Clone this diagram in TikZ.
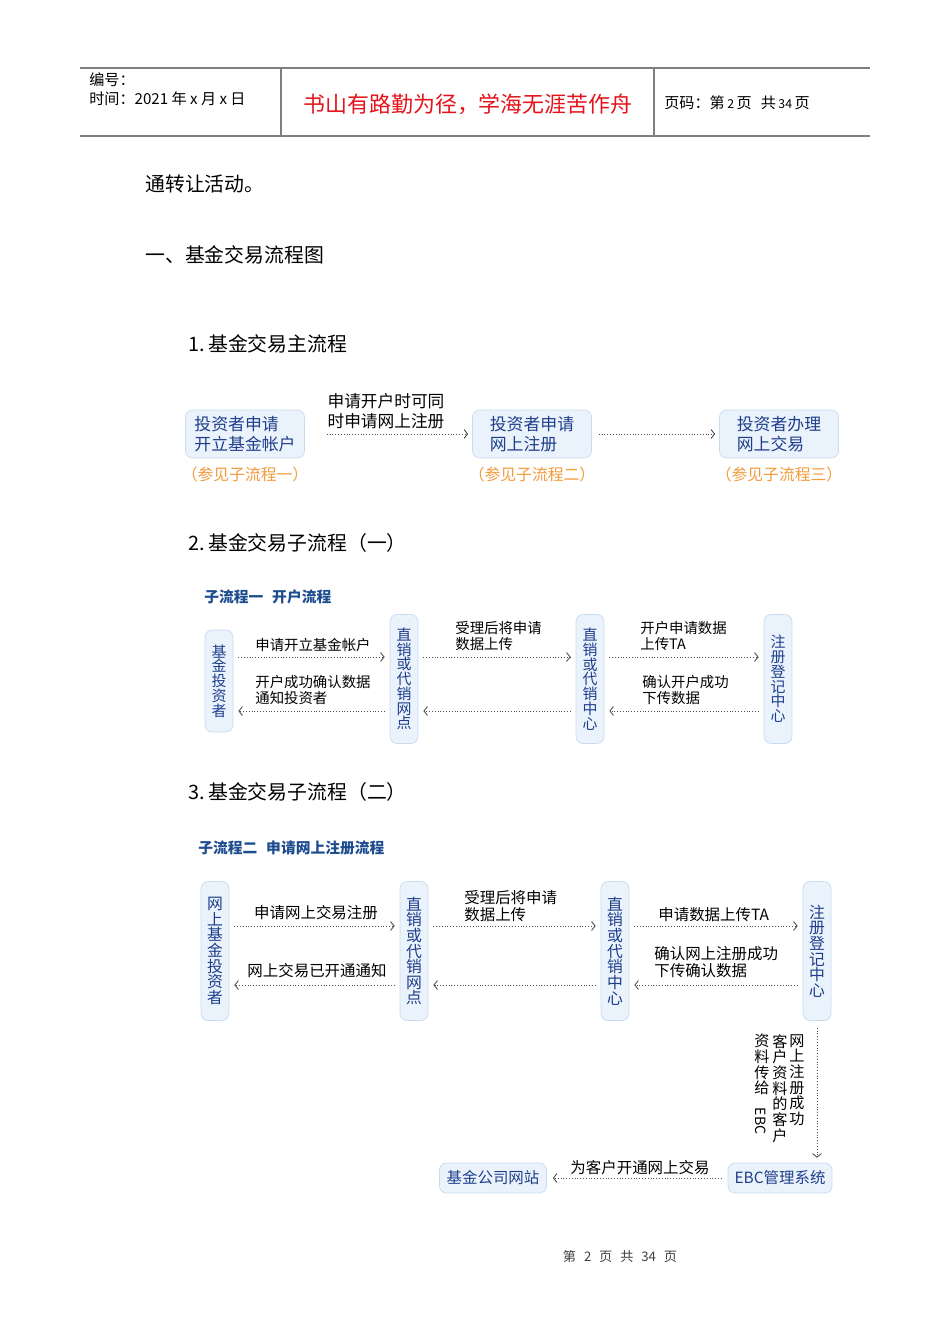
\documentclass[tikz,border=0pt]{standalone}
\usepackage{fontspec}
\usepackage{graphicx}
\setmainfont{Noto Sans CJK SC}
\usetikzlibrary{arrows.meta}
\definecolor{boxfill}{HTML}{EAF2FB}
\definecolor{boxline}{HTML}{C8DCF0}
\definecolor{boxtext}{HTML}{1F3F8C}
\definecolor{refcolor}{HTML}{F39A3A}
\definecolor{mottored}{HTML}{E3141B}
\definecolor{subhead}{HTML}{1E4D8F}
\definecolor{rulegray}{HTML}{7F7F7F}
\newcommand{\fs}[2]{\fontsize{#1}{#2}\selectfont}
\begin{document}
\begin{tikzpicture}[x=0.02cm, y=-0.02cm,
            mainbox/.style={draw=boxline, fill=boxfill, rounded corners=4pt, text=boxtext, align=left, minimum width=2.38cm, minimum height=0.96cm, inner sep=0pt, font=\fs{9.6pt}{11.3pt}},
            vbox/.style={draw=boxline, fill=boxfill, rounded corners=4pt, text=boxtext, align=center, minimum width=0.56cm, inner sep=0pt, font=\fs{8.5pt}{8.4pt}},
            wbox/.style={vbox, minimum height=2.78cm, font=\fs{9pt}{8.9pt}},
            hbox/.style={draw=boxline, fill=boxfill, rounded corners=4pt, text=boxtext, minimum height=0.6cm, inner sep=0pt, font=\fs{8.8pt}{10pt}},
            flow/.style={draw=black!70, line width=0.5pt, dash pattern=on 0.5pt off 1.1pt, -{Straight Barb[length=2pt,width=5pt]}, shorten <=0.1cm, shorten >=0.1cm},
            lbl/.style={font=\fs{8.2pt}{9.6pt}, align=left, inner sep=0pt},
            lblb/.style={font=\fs{8.8pt}{10pt}, align=left, inner sep=0pt},
            vcol/.style={font=\fs{8.6pt}{8.9pt}, align=center, inner sep=0pt, anchor=north},
            seeref/.style={text=refcolor, font=\fs{9pt}{10pt}, inner sep=0pt},
            sechead/.style={anchor=west, inner sep=0pt, font=\fs{11.3pt}{13pt}},
            subtitle/.style={anchor=west, inner sep=0pt, text=subhead, font=\bfseries\fs{8.4pt}{10pt}},
            hdr/.style={anchor=west, inner sep=0pt, font=\fs{8.6pt}{10pt}},
            rule/.style={draw=rulegray, line width=0.6pt}
        ]
        \fill[white] (0,0) rectangle (950,1344);
        \useasboundingbox (0,0) rectangle (950,1344);

        % --- CABECERA ---
        \draw[rule] (80,68) -- (870,68);
        \draw[rule, line width=1.2pt] (80,136) -- (870,136);
        \draw[rule] (281,68) -- (281,136);
        \draw[rule] (654,68) -- (654,136);
        \node[hdr] (num) at (89,80) {编号：};
        \node[hdr] (date) at (89,99) {时间：2021 年 x 月 x 日};
        \node[text=mottored, font=\fs{12.5pt}{14pt}, inner sep=0pt] (motto) at (468,104) {书山有路勤为径，学海无涯苦作舟};
        \node[hdr] (page) at (664,103) {页码：第\,{\fs{7pt}{8pt}2}\,页\hspace{0.6em}共\,{\fs{7pt}{8pt}34}\,页};

        % --- TEXTO ---
        \node[sechead] (t0) at (145,184) {通转让活动。};
        \node[sechead] (t1) at (145,255) {一、基金交易流程图};
        \node[sechead] (s1) at (188,344) {1.\,基金交易主流程};
        \node[sechead] (s2) at (188,543) {2.\,基金交易子流程（一）};
        \node[sechead] (s3) at (188,792) {3.\,基金交易子流程（二）};

        % --- FLUJO PRINCIPAL ---
        \node[mainbox] (apply) at (245,434) {投资者申请\\开立基金帐户};
        \node[mainbox] (reg) at (532,434) {投资者申请\\网上注册};
        \node[mainbox] (trade) at (779,434) {投资者办理\\网上交易};
        \node[seeref] (ref1) at (245,474) {（参见子流程一）};
        \node[seeref] (ref2) at (532,474) {（参见子流程二）};
        \node[seeref] (ref3) at (779,474) {（参见子流程三）};

        \draw[flow, shorten <=0.44cm, shorten >=0.08cm] (apply) -- (reg);
        \draw[flow, shorten <=0.14cm, shorten >=0.08cm] (reg) -- (trade);
        \node[font=\fs{9.5pt}{11.3pt}, align=center, inner sep=0pt] (l0) at (386,411) {申请开户时可同\\时申请网上注册};

        % --- SUBFLUJO UNO ---
        \node[subtitle] (sub1) at (204,597) {子流程一\hspace{0.6em}开户流程};
        \node[vbox, minimum height=2.04cm] (inv) at (219,681) {基\\金\\投\\资\\者};
        \node[vbox, minimum height=2.58cm] (branch) at (404,679) {直\\销\\或\\代\\销\\网\\点};
        \node[vbox, minimum height=2.58cm] (center) at (590,679) {直\\销\\或\\代\\销\\中\\心};
        \node[vbox, minimum height=2.58cm] (ta) at (778,679) {注\\册\\登\\记\\中\\心};
        \coordinate (up1) at (0,657);
        \coordinate (dn1) at (0,711);

        \draw[flow] (inv.east |- up1) -- (branch.west |- up1);
        \draw[flow] (branch.east |- up1) -- (center.west |- up1);
        \draw[flow] (center.east |- up1) -- (ta.west |- up1);
        \draw[flow] (branch.west |- dn1) -- (inv.east |- dn1);
        \draw[flow] (center.west |- dn1) -- (branch.east |- dn1);
        \draw[flow] (ta.west |- dn1) -- (center.east |- dn1);

        \node[lbl, anchor=west] (l1) at (255,645) {申请开立基金帐户};
        \node[lbl, anchor=west] (l2) at (255,690) {开户成功确认数据\\通知投资者};
        \node[lbl, anchor=west] (l3) at (455,636) {受理后将申请\\数据上传};
        \node[lbl, anchor=west] (l4) at (640,636) {开户申请数据\\上传TA};
        \node[lbl, anchor=west] (l5) at (642,690) {确认开户成功\\下传数据};

        % --- SUBFLUJO DOS ---
        \node[subtitle] (sub2) at (198,848) {子流程二\hspace{0.6em}申请网上注册流程};
        \node[wbox] (winv) at (215,951) {网\\上\\基\\金\\投\\资\\者};
        \node[wbox] (wbranch) at (414,951) {直\\销\\或\\代\\销\\网\\点};
        \node[wbox] (wcenter) at (615,951) {直\\销\\或\\代\\销\\中\\心};
        \node[wbox] (wta) at (817,951) {注\\册\\登\\记\\中\\心};
        \coordinate (up2) at (0,926);
        \coordinate (dn2) at (0,985);

        \draw[flow] (winv.east |- up2) -- (wbranch.west |- up2);
        \draw[flow] (wbranch.east |- up2) -- (wcenter.west |- up2);
        \draw[flow] (wcenter.east |- up2) -- (wta.west |- up2);
        \draw[flow] (wbranch.west |- dn2) -- (winv.east |- dn2);
        \draw[flow] (wcenter.west |- dn2) -- (wbranch.east |- dn2);
        \draw[flow] (wta.west |- dn2) -- (wcenter.east |- dn2);

        \node[lblb] (m1) at (316,913) {申请网上交易注册};
        \node[lblb] (m2) at (317,971) {网上交易已开通通知};
        \node[lblb, anchor=west] (m3) at (464,906) {受理后将申请\\数据上传};
        \node[lblb, anchor=west] (m4) at (658,915) {申请数据上传TA};
        \node[lblb, anchor=west] (m5) at (654,962) {确认网上注册成功\\下传确认数据};

        % --- EBC ---
        \node[hbox, minimum width=2.14cm] (site) at (493,1178) {基金公司网站};
        \node[hbox, minimum width=2.08cm] (ebc) at (780,1178) {EBC管理系统};
        \draw[flow, shorten <=0.14cm] (wta.south) -- (wta.south |- ebc.north);
        \draw[flow, shorten <=0.12cm, shorten >=0.12cm] (ebc) -- (site);
        \node[vcol] (c1) at (797,1034) {网\\上\\注\\册\\成\\功};
        \node[vcol] (c2) at (780,1034) {客\\户\\资\\料\\的\\客\\户};
        \node[vcol] (c3) at (762,1034) {资\\料\\传\\给\\[-1pt]\hspace{-2pt}\rotatebox{-90}{\fs{8pt}{8pt}EBC}};
        \node[lblb] (m6) at (640,1168) {为客户开通网上交易};

        % --- PIE ---
        \node[font=\fs{7.5pt}{9pt}, text=black!75, inner sep=0pt] (foot) at (620,1256) {第\hspace{0.6em}2\hspace{0.6em}页\hspace{0.6em}共\hspace{0.6em}34\hspace{0.6em}页};
    \end{tikzpicture}
\end{document}
